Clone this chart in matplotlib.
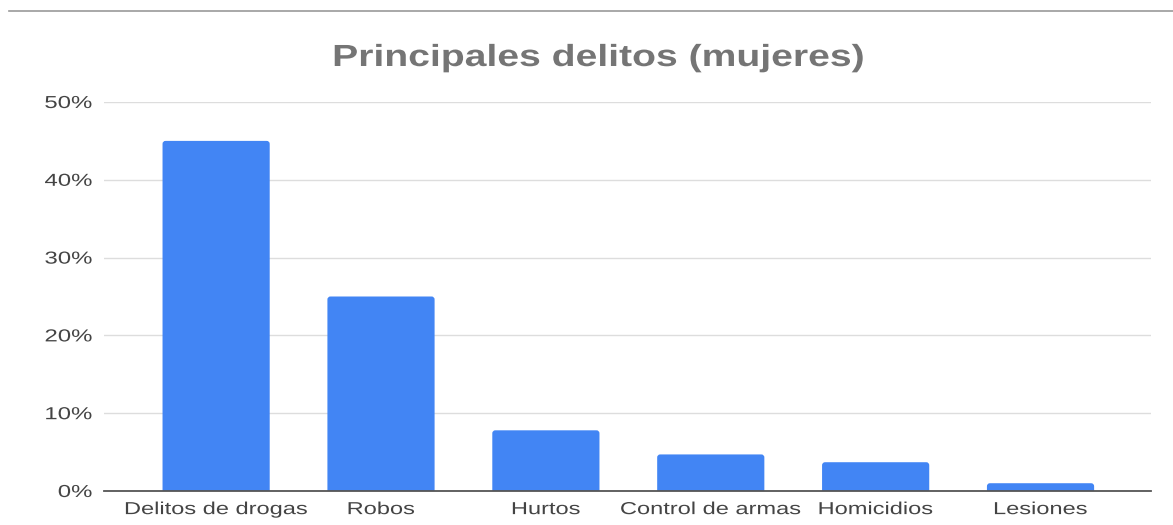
import matplotlib.pyplot as plt
from matplotlib.lines import Line2D
from matplotlib.patches import FancyBboxPatch
from matplotlib.patheffects import AbstractPathEffect
from matplotlib.transforms import Affine2D

categories = ["Delitos de drogas", "Robos", "Hurtos", "Control de armas", "Homicidios", "Lesiones"]
values = [45, 25, 7.8, 4.7, 3.7, 1]
y_ticks = [0, 10, 20, 30, 40, 50]
y_tick_labels = ["0%", "10%", "20%", "30%", "40%", "50%"]

BAR_COLOR = "#4285f4"
TEXT_COLOR = "#444444"

plt.rcParams["font.family"] = ["Liberation Sans", "DejaVu Sans"]


class HStretch(AbstractPathEffect):
    """Stretch text glyphs horizontally (the reference text is rendered wide)."""

    def __init__(self, sx, anchor="center"):
        super().__init__()
        self.sx = sx
        self.anchor = anchor

    def draw_path(self, renderer, gc, tpath, affine, rgbFace=None):
        ext = tpath.get_extents()
        if self.anchor == "right":
            a = ext.x1
        elif self.anchor == "left":
            a = ext.x0
        else:
            a = (ext.x0 + ext.x1) / 2
        t = Affine2D().translate(-a, 0).scale(self.sx, 1).translate(a, 0) + affine
        renderer.draw_path(gc, tpath, t, rgbFace)


fig = plt.figure(figsize=(11.73, 5.25), dpi=100)
ax = fig.add_axes([104 / 1173, 1 - 491 / 525, (1151 - 104) / 1173, (491 - 102) / 525])

ax.set_xlim(-0.68, 5.67)
ax.set_ylim(0, 50)

x = list(range(len(categories)))
bars = ax.bar(x, values, width=0.65, color=BAR_COLOR, zorder=3)

# swap the plain rectangles for ones with slightly rounded top corners
px_x = ax.get_position().width * 1173 / 6.35   # pixels per x unit
px_y = ax.get_position().height * 525 / 50     # pixels per y unit
radius = 3 / px_x
aspect = px_x / px_y
for rect in bars:
    x0, w, h = rect.get_x(), rect.get_width(), rect.get_height()
    extra = radius * aspect
    rounded = FancyBboxPatch((x0, -extra), w, h + extra,
                             boxstyle=f"round,pad=0,rounding_size={radius}",
                             mutation_aspect=aspect, facecolor=BAR_COLOR,
                             edgecolor="none", zorder=3)
    ax.add_patch(rounded)
    rect.set_visible(False)

ax.set_yticks(y_ticks)
ax.set_yticklabels(y_tick_labels)
ax.set_xticks(x)
ax.set_xticklabels(categories)
ax.tick_params(axis="y", length=0, pad=8.5, labelsize=12.5, labelcolor=TEXT_COLOR)
ax.tick_params(axis="x", length=0, pad=8, labelsize=12.5, labelcolor=TEXT_COLOR)
for lab in ax.get_yticklabels():
    lab.set_path_effects([HStretch(1.38, "right")])
for lab in ax.get_xticklabels():
    lab.set_path_effects([HStretch(1.36)])

ax.grid(axis="y", color="#dddddd", linewidth=1, zorder=0)
for side in ["top", "right", "left"]:
    ax.spines[side].set_visible(False)
ax.spines["bottom"].set_color("#555555")
ax.spines["bottom"].set_linewidth(1.3)
ax.spines["bottom"].set_zorder(4)

title = fig.text(598 / 1173, 1 - 58 / 525, "Principales delitos (mujeres)", ha="center", va="center",
                 fontsize=22, fontweight="bold", color="#757575")
title.set_path_effects([HStretch(1.28)])

# thin rule across the top of the image
fig.add_artist(Line2D([9 / 1173, 1], [1 - 11 / 525, 1 - 11 / 525], color="#999999", linewidth=1.2))

fig.savefig("out.png", dpi=100, facecolor="white")
